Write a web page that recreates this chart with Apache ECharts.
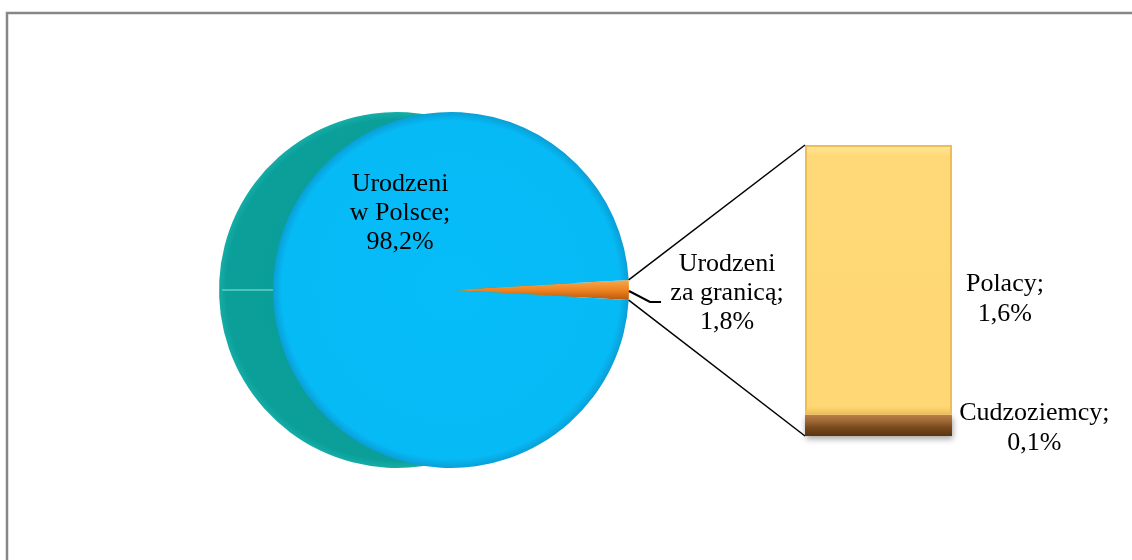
<!DOCTYPE html>
<html>
<head>
<meta charset="utf-8">
<script src="https://cdn.jsdelivr.net/npm/echarts@6/dist/echarts.min.js"></script>
<style>
  body{ margin:0; padding:0; background:#fff; }
</style>
</head>
<body>
<div id="main" style="width:1132px;height:560px;"></div>
<script type="text/javascript">
// data
var pieNames = ['Urodzeni za granicą', 'Urodzeni w Polsce'];
var pieValues = [1.8, 98.2];
var barNames = ['Cudzoziemcy', 'Polacy'];
var barValues = [0.13, 1.64];

// layout
var cx = 451, cy = 290, r = 178, depth = 54;
var gLeft = 805, gTop = 145, gW = 147, gH = 291;
var font = 'Liberation Serif';

function pct(v) { return v.toFixed(1).replace('.', ',') + '%'; }
function twoLines(s) { return s.replace(' ', '\n'); }

var half = pieValues[0] / (pieValues[0] + pieValues[1]) * 180;
var rad = half * Math.PI / 180;
var tipTop = [cx + r * Math.cos(rad), cy - r * Math.sin(rad)];
var tipBot = [cx + r * Math.cos(rad), cy + r * Math.sin(rad)];
var barTotal = barValues[0] + barValues[1];

var myChart = echarts.init(document.getElementById('main'));

var blue = {
  type: 'radial', x: 0.5, y: 0.5, r: 0.5,
  colorStops: [
    { offset: 0, color: '#06BDF9' },
    { offset: 0.95, color: '#06BAF6' },
    { offset: 1, color: '#0A9FD6' }
  ]
};
var orange = {
  type: 'linear', x: 0, y: 0, x2: 0, y2: 1,
  colorStops: [
    { offset: 0, color: '#F8A84C' },
    { offset: 0.5, color: '#EE8421' },
    { offset: 1, color: '#B9570C' }
  ]
};

var pieData = pieNames.map(function (n, i) {
  return { name: n, value: pieValues[i] };
});
pieData[0].itemStyle = { color: orange };
pieData[0].label = { position: 'outside' };
pieData[1].itemStyle = { color: blue };
pieData[1].label = { position: 'inside' };

var barStyles = [
  {
    color: {
      type: 'linear', x: 0, y: 0, x2: 0, y2: 1,
      colorStops: [
        { offset: 0, color: '#B98049' },
        { offset: 0.35, color: '#9A6431' },
        { offset: 0.6, color: '#7A4A1D' },
        { offset: 1, color: '#5A3410' }
      ]
    },
    shadowBlur: 6, shadowColor: 'rgba(0,0,0,0.35)', shadowOffsetY: 3, shadowOffsetX: 1
  },
  {
    color: {
      type: 'linear', x: 0, y: 0, x2: 0, y2: 1,
      colorStops: [
        { offset: 0, color: '#FFE699' },
        { offset: 0.04, color: '#FFD978' },
        { offset: 0.97, color: '#FFD774' },
        { offset: 1, color: '#EFBE58' }
      ]
    },
    borderColor: '#EDBE58', borderWidth: 2
  }
];
var barLabelPos = [['156%', '62%'], ['136%', '57%']];

option = {
  animation: false,
  grid: { left: gLeft, top: gTop, width: gW, height: gH },
  xAxis: { type: 'category', data: ['Urodzeni za granicą'], show: false },
  yAxis: { type: 'value', min: 0, max: barTotal, show: false },
  series: [
    {
      // side of the 3D disc
      type: 'pie',
      silent: true,
      center: [cx - depth, cy],
      radius: r,
      startAngle: half,
      clockwise: true,
      label: { show: false },
      labelLine: { show: false },
      itemStyle: {
        color: {
          type: 'radial', x: 0.5, y: 0.5, r: 0.5,
          colorStops: [
            { offset: 0, color: '#0A9C97' },
            { offset: 0.96, color: '#0B9F9A' },
            { offset: 1, color: '#16ADA7' }
          ]
        }
      },
      data: pieValues.map(function (v) { return v; })
    },
    {
      type: 'pie',
      silent: true,
      center: [cx, cy],
      radius: r,
      startAngle: half,
      clockwise: true,
      label: {
        show: true,
        fontFamily: font,
        fontSize: 26,
        lineHeight: 29,
        color: '#000',
        formatter: function (p) { return twoLines(p.name) + ';\n' + pct(p.value); }
      },
      labelLine: { show: false },
      labelLayout: function (p) {
        if (p.dataIndex === 1) {
          return { x: cx - 51, y: cy - 77, align: 'center', verticalAlign: 'middle' };
        }
        return { x: cx + r + 98, y: cy + 3, align: 'center', verticalAlign: 'middle' };
      },
      data: pieData
    }
  ].concat(barNames.map(function (n, i) {
    return {
      type: 'bar',
      name: n,
      stack: 'foreign',
      barWidth: '100%',
      silent: true,
      itemStyle: barStyles[i],
      label: {
        show: true,
        position: barLabelPos[i],
        align: 'center',
        verticalAlign: 'middle',
        fontFamily: font,
        fontSize: 26,
        lineHeight: 30,
        color: '#000',
        formatter: function (p) { return p.seriesName + ';\n' + pct(p.value); }
      },
      data: [barValues[i]]
    };
  })),
  graphic: [
    {
      type: 'polyline',
      z: 10,
      shape: { points: [[7, 560], [7, 13], [1132, 13]] },
      style: { stroke: '#878787', lineWidth: 2.5, fill: null }
    },
    {
      // seam on the disc side
      type: 'line',
      z: 10,
      shape: { x1: cx - depth - r + 3, y1: cy, x2: cx - r, y2: cy },
      style: { stroke: '#4CC3BB', lineWidth: 2 }
    },
    {
      // leader line to the small slice label
      type: 'polyline',
      z: 10,
      shape: { points: [[cx + r, cy + 1], [cx + r + 21, cy + 12], [cx + r + 32, cy + 12]] },
      style: { stroke: '#000', lineWidth: 2, fill: null }
    },
    {
      type: 'line',
      z: 10,
      shape: { x1: tipTop[0], y1: tipTop[1], x2: gLeft, y2: gTop },
      style: { stroke: '#000', lineWidth: 1.5 }
    },
    {
      type: 'line',
      z: 10,
      shape: { x1: tipBot[0], y1: tipBot[1], x2: gLeft, y2: gTop + gH },
      style: { stroke: '#000', lineWidth: 1.5 }
    }
  ]
};

myChart.setOption(option);
</script>
</body>
</html>
